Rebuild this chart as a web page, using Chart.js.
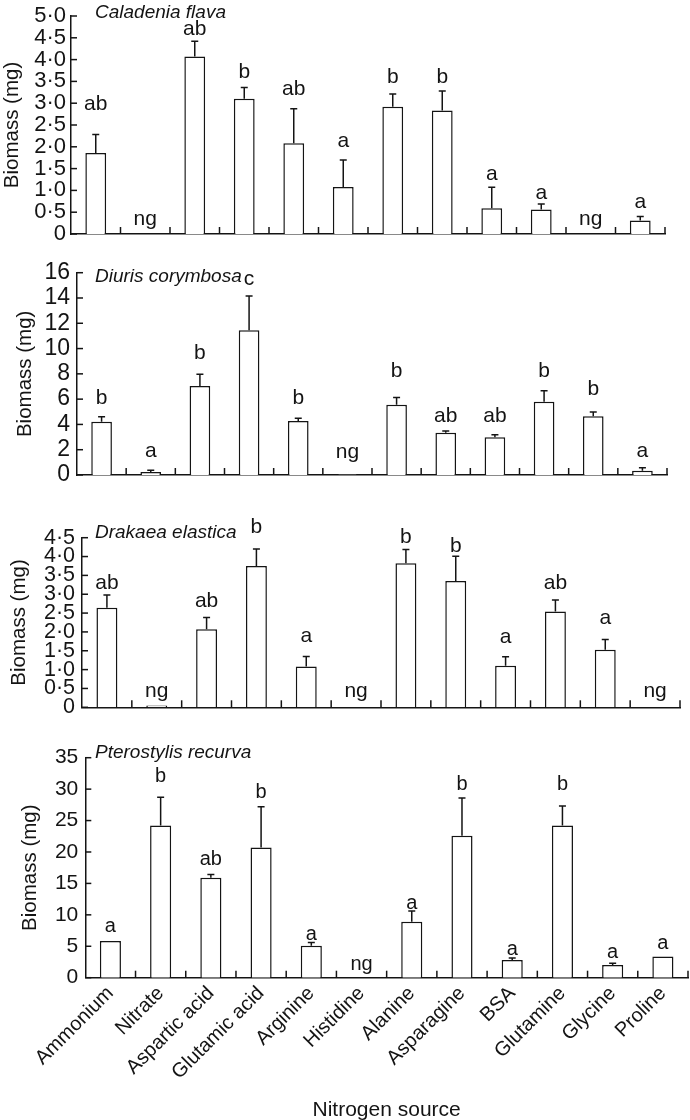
<!DOCTYPE html>
<html><head><meta charset="utf-8">
<script src="https://cdn.jsdelivr.net/npm/chart.js@4.4.1/dist/chart.umd.min.js"></script>
<style>
html,body{margin:0;padding:0;background:#fff;}
body{width:690px;height:1120px;position:relative;overflow:hidden;}
.p{position:absolute;left:0;width:690px;}
</style></head><body>
<div class="p" style="top:0px;height:240px"><canvas id="c1"></canvas></div>
<div class="p" style="top:245px;height:236px"><canvas id="c2"></canvas></div>
<div class="p" style="top:500px;height:213.3px"><canvas id="c3"></canvas></div>
<div class="p" style="top:730px;height:390px"><canvas id="c4"></canvas></div>
<script>
const categories = ['Ammonium','Nitrate','Aspartic acid','Glutamic acid','Arginine','Histidine','Alanine','Asparagine','BSA','Glutamine','Glycine','Proline'];

// Caladenia flava
const caladeniaMean   = [1.86, null, 4.07, 3.10, 2.08, 1.08, 2.92, 2.83, 0.59, 0.56, null, 0.31];
const caladeniaUpper  = [2.28, null, 4.42, 3.36, 2.87, 1.70, 3.21, 3.28, 1.07, 0.69, null, 0.40];
const caladeniaLetters = ['ab','ng','ab','b','ab','a','b','b','a','a','ng','a'];
const caladeniaLetterAt = [2.84, 0.20, 4.56, 3.57, 3.19, 2.00, 3.46, 3.46, 1.24, 0.80, 0.20, 0.59];
const caladeniaTicks = ['0','0·5','1·0','1·5','2·0','2·5','3·0','3·5','4·0','4·5','5·0'];

// Diuris corymbosa
const diurisMean   = [4.22, 0.24, 7.04, 11.45, 4.27, 0.05, 5.56, 3.35, 2.98, 5.80, 4.64, 0.34];
const diurisUpper  = [4.61, 0.37, 7.96, 14.16, 4.48, 0.05, 6.12, 3.48, 3.19, 6.67, 4.98, 0.58];
const diurisLetters = ['b','a','b','c','b','ng','b','ab','ab','b','b','a'];
const diurisLetterAt = [5.62, 1.40, 9.18, 15.03, 5.62, 1.32, 7.78, 4.22, 4.22, 7.78, 6.33, 1.40];
const diurisTicks = ['0','2','4','6','8','10','12','14','16'];

// Drakaea elastica
const drakaeaMean   = [2.64, 0.05, 2.07, 3.75, 1.08, null, 3.82, 3.35, 1.10, 2.54, 1.53, null];
const drakaeaUpper  = [2.98, 0.05, 2.38, 4.20, 1.35, null, 4.19, 4.01, 1.34, 2.85, 1.80, null];
const drakaeaLetters = ['ab','ng','ab','b','a','ng','b','b','a','ab','a','ng'];
const drakaeaLetterAt = [3.14, 0.28, 2.67, 4.62, 1.74, 0.28, 4.37, 4.13, 1.71, 3.14, 2.20, 0.28];
const drakaeaTicks = ['0','0·5','1·0','1·5','2·0','2·5','3·0','3·5','4·0','4·5'];

// Pterostylis recurva
const pterostylisMean   = [5.85, 24.2, 15.9, 20.7, 5.1, null, 8.9, 22.6, 2.8, 24.2, 2.03, 3.37];
const pterostylisUpper  = [5.85, 28.7, 16.4, 27.2, 5.6, null, 10.6, 28.6, 3.14, 27.3, 2.3, 3.37];
const pterostylisLetters = ['a','b','ab','b','a','ng','a','b','a','b','a','a'];
const pterostylisLetterAt = [7.2, 31.1, 17.9, 28.6, 6.0, 1.2, 11.0, 29.8, 3.6, 29.8, 3.1, 4.5];
const pterostylisTicks = ['0','5','10','15','20','25','30','35'];

const FONT = '"Liberation Sans", Arial, Helvetica, sans-serif';
const INK = '#141414';

function decor(cfg) {
  return {
    id: 'decor',
    afterDraw(chart) {
      const ctx = chart.ctx, xs = chart.scales.x, ys = chart.scales.y, a = chart.chartArea;
      ctx.save();
      ctx.strokeStyle = INK; ctx.fillStyle = INK; ctx.lineWidth = 1.5;
      // y tick marks (inward)
      ys.ticks.forEach(t => {
        const py = ys.getPixelForValue(t.value);
        ctx.beginPath(); ctx.moveTo(a.left, py); ctx.lineTo(a.left + 6, py); ctx.stroke();
      });
      // x boundary ticks (inward)
      for (let i = 1; i <= categories.length; i++) {
        const px = xs.getPixelForValue(i - 0.5);
        ctx.beginPath(); ctx.moveTo(px, a.bottom); ctx.lineTo(px, a.bottom - 7); ctx.stroke();
      }
      // error bars
      cfg.mean.forEach((m, i) => {
        const u = cfg.upper[i];
        if (m == null || u == null || u <= m) return;
        const px = xs.getPixelForValue(i);
        const y0 = ys.getPixelForValue(m), y1 = ys.getPixelForValue(u);
        ctx.beginPath(); ctx.moveTo(px, y0); ctx.lineTo(px, y1);
        ctx.moveTo(px - 3.5, y1); ctx.lineTo(px + 3.5, y1); ctx.stroke();
      });
      // letters
      ctx.font = cfg.letterSize + 'px ' + FONT; ctx.textAlign = 'center'; ctx.textBaseline = 'alphabetic';
      cfg.letters.forEach((l, i) => {
        ctx.fillText(l, xs.getPixelForValue(i), ys.getPixelForValue(cfg.letterAt[i]));
      });
      // species title
      ctx.font = 'italic 19px ' + FONT; ctx.textAlign = 'left';
      ctx.fillText(cfg.title, 95, a.top + cfg.titleDy);
      ctx.restore();
    }
  };
}

function makeChart(id, cfg) {
  const last = !!cfg.showX;
  return new Chart(document.getElementById(id), {
    type: 'bar',
    data: {
      labels: categories,
      datasets: [{
        data: cfg.mean,
        backgroundColor: '#ffffff',
        borderColor: INK,
        borderWidth: 1.5,
        barPercentage: 0.42,
        categoryPercentage: 1.0
      }]
    },
    options: {
      responsive: true,
      maintainAspectRatio: false,
      devicePixelRatio: 1,
      animation: false,
      events: [],
      layout: { padding: { top: cfg.pt, right: cfg.pr, bottom: cfg.pb, left: 0 } },
      plugins: { legend: { display: false }, tooltip: { enabled: false } },
      scales: {
        x: {
          offset: true,
          grid: { display: false, drawTicks: false },
          border: { display: true, color: INK, width: 1.5 },
          ticks: {
            display: last, autoSkip: false, maxRotation: 45, minRotation: 45,
            color: INK, padding: 4, font: { family: FONT, size: 20 }
          },
          title: {
            display: last, text: 'Nitrogen source', color: INK,
            font: { family: FONT, size: 21 }, padding: { top: 0, bottom: -3 }
          },
          afterFit(s) { s.height = cfg.xH; s.paddingLeft = 0; s.paddingRight = 0; }
        },
        y: {
          min: 0, max: cfg.max,
          grid: { display: false, drawTicks: false },
          border: { display: true, color: INK, width: 1.5 },
          ticks: {
            stepSize: cfg.step, autoSkip: false, color: INK, padding: cfg.tickPad,
            font: { family: FONT, size: cfg.tickSize },
            callback: (v, i) => cfg.ticks[i]
          },
          title: {
            display: true, text: 'Biomass (mg)', color: INK,
            font: { family: FONT, size: 20.5 }, padding: { top: cfg.titlePad, bottom: 0 }
          },
          afterFit(s) { s.width = cfg.L; s.paddingTop = 0; s.paddingBottom = 0; }
        }
      }
    },
    plugins: [decor(cfg)]
  });
}

makeChart('c1', { mean: caladeniaMean, upper: caladeniaUpper, letters: caladeniaLetters, letterAt: caladeniaLetterAt,
  ticks: caladeniaTicks, max: 5, step: 0.5, title: 'Caladenia flava', titleDy: 1.5,
  pt: 16, pr: 25, pb: 6, xH: 0, L: 71, titlePad: 0, tickSize: 22, tickPad: 5, letterSize: 21 });
makeChart('c2', { mean: diurisMean, upper: diurisUpper, letters: diurisLetters, letterAt: diurisLetterAt,
  ticks: diurisTicks, max: 16, step: 2, title: 'Diuris corymbosa', titleDy: 9,
  pt: 27.7, pr: 23, pb: 6, xH: 0, L: 77, titlePad: 13, tickSize: 23, tickPad: 7, letterSize: 21 });
makeChart('c3', { mean: drakaeaMean, upper: drakaeaUpper, letters: drakaeaLetters, letterAt: drakaeaLetterAt,
  ticks: drakaeaTicks, max: 4.5, step: 0.5, title: 'Drakaea elastica', titleDy: 0.6,
  pt: 37.7, pr: 10, pb: 6, xH: 0, L: 82, titlePad: 7, tickSize: 21.5, tickPad: 7, letterSize: 21 });
makeChart('c4', { mean: pterostylisMean, upper: pterostylisUpper, letters: pterostylisLetters, letterAt: pterostylisLetterAt,
  ticks: pterostylisTicks, max: 35, step: 5, title: 'Pterostylis recurva', titleDy: 0,
  pt: 27.7, pr: 2, pb: 0, xH: 142.3, L: 85.3, titlePad: 18, tickSize: 21, tickPad: 7, letterSize: 20, showX: true });
</script>
</body></html>
